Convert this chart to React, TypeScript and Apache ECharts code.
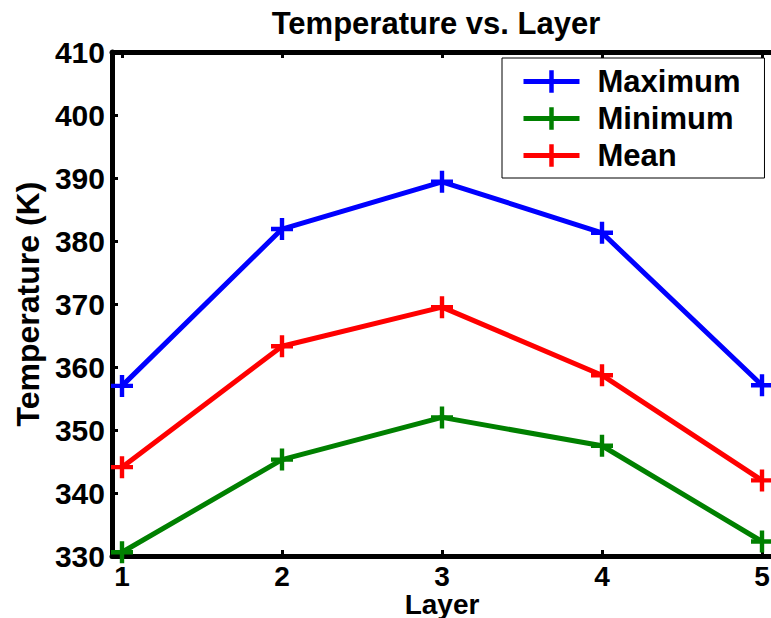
import React, { useEffect, useRef } from "react";
import * as echarts from "echarts";

const layers = [1, 2, 3, 4, 5];
const maximumValues = [357.0, 381.9, 389.4, 381.3, 357.1];
const minimumValues = [330.6, 345.3, 352.0, 347.5, 332.3];
const meanValues = [344.1, 363.3, 369.5, 358.7, 342.0];
const yTicks = [330, 410, 10];

const FONT = "'Liberation Sans', Arial, Helvetica, sans-serif";
const PLUS = "path://M8,0h4v8h8v4h-8v8h-4v-8h-8v-4h8z";

export default function App() {
  const ref = useRef<HTMLDivElement>(null);
  useEffect(() => {
    if (!ref.current) return;
    const chart = echarts.init(ref.current, undefined, { renderer: "svg" });
    const mk = (name: string, vals: number[], color: string) => ({
      name,
      type: "line",
      data: layers.map((l, i) => [l, vals[i]]),
      symbol: PLUS,
      symbolSize: 22,
      showSymbol: true,
      lineStyle: { color, width: 5 },
      itemStyle: { color },
      z: 3,
    });
    const axisCommon = {
      axisLine: { show: true, lineStyle: { color: "#000", width: 5 } },
      axisTick: { show: true, inside: true, length: 6, lineStyle: { color: "#000", width: 3 } },
      splitLine: { show: false },
    };
    chart.setOption({
      animation: false,
      backgroundColor: "#fff",
      graphic: [
        {
          type: "text",
          x: 436,
          y: 23,
          style: {
            text: "Temperature vs. Layer",
            fontFamily: FONT,
            fontWeight: "bold",
            fontSize: 31,
            fill: "#000",
            textAlign: "center",
            textVerticalAlign: "middle",
          },
        },
      ],
      grid: { left: 112, right: -1, top: 52, bottom: 62, containLabel: false, outerBoundsMode: "none" },
      legend: {
        left: 502,
        top: 58,
        orient: "vertical",
        padding: [8, 24, 7, 19],
        itemWidth: 56,
        itemHeight: 28,
        itemGap: 6,
        borderColor: "#000",
        borderWidth: 1,
        backgroundColor: "#fff",
        lineStyle: { width: 5 },
        textStyle: {
          fontFamily: FONT,
          fontWeight: "bold",
          fontSize: 31,
          color: "#000",
          padding: [0, 0, 0, 13],
        },
        data: ["Maximum", "Minimum", "Mean"],
      },
      xAxis: [
        {
          type: "value",
          position: "bottom",
          min: 0.9375,
          max: 5.0625,
          ...axisCommon,
          axisTick: { ...axisCommon.axisTick, customValues: layers },
          axisLabel: {
            customValues: layers,
            fontFamily: FONT,
            fontWeight: "bold",
            fontSize: 28,
            lineHeight: 28,
            color: "#000",
            margin: 6,
          },
          name: "Layer",
          nameLocation: "middle",
          nameGap: 34,
          nameMoveOverlap: false,
          nameTextStyle: { fontFamily: FONT, fontWeight: "bold", fontSize: 28, lineHeight: 28, color: "#000" },
        },
        {
          type: "value",
          position: "top",
          min: 0.9375,
          max: 5.0625,
          ...axisCommon,
          axisTick: { ...axisCommon.axisTick, customValues: layers },
          axisLabel: { show: false },
        },
      ],
      yAxis: {
        type: "value",
        min: yTicks[0],
        max: yTicks[1],
        interval: yTicks[2],
        ...axisCommon,
        axisLabel: {
          fontFamily: FONT,
          fontWeight: "bold",
          fontSize: 30,
          color: "#000",
          margin: 7,
        },
        name: "Temperature (K)",
        nameLocation: "middle",
        nameGap: 68,
        nameMoveOverlap: false,
        nameTextStyle: { fontFamily: FONT, fontWeight: "bold", fontSize: 32, color: "#000" },
      },
      series: [
        mk("Maximum", maximumValues, "#0000ff"),
        mk("Minimum", minimumValues, "#008000"),
        mk("Mean", meanValues, "#ff0000"),
      ],
    });
    return () => chart.dispose();
  }, []);
  return (
    <div
      ref={ref}
      style={{ position: "fixed", left: 0, top: 0, width: 771, height: 618 }}
    />
  );
}
